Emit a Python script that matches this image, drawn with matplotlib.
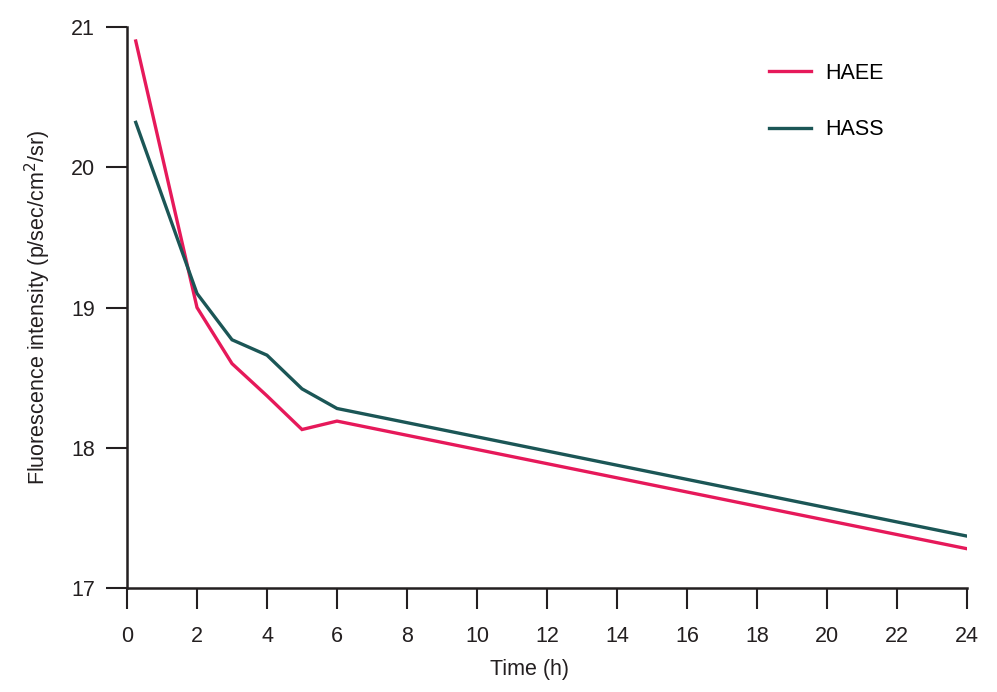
import matplotlib
matplotlib.use("Agg")
import matplotlib.pyplot as plt

time_h = [0.25, 2, 3, 4, 5, 6, 24]
haee = [20.90, 19.00, 18.60, 18.37, 18.13, 18.19, 17.28]
hass = [20.32, 19.10, 18.77, 18.66, 18.42, 18.28, 17.37]
xticks = list(range(0, 25, 2))
yticks = [17, 18, 19, 20, 21]

plt.rcParams['font.family'] = ['Liberation Sans', 'DejaVu Sans']

fig = plt.figure(figsize=(9.97, 6.92), dpi=100)
ax = fig.add_axes([127/997, 1-588/692, (967-127)/997, (588-27)/692])

c_haee = '#E6195A'
c_hass = '#1B5656'
ax.plot(time_h, haee, color=c_haee, lw=2.4, label='HAEE', solid_joinstyle='miter')
ax.plot(time_h, hass, color=c_hass, lw=2.4, label='HASS', solid_joinstyle='miter')

fs = 15.5
ax.set_xlim(0, 24)
ax.set_ylim(17, 21)
ax.set_xticks(xticks)
ax.set_yticks(yticks)
for s in ['top', 'right']:
    ax.spines[s].set_visible(False)
for s in ['left', 'bottom']:
    ax.spines[s].set_linewidth(1.8)
    ax.spines[s].set_color('#231F20')
ax.tick_params(axis='both', direction='out', length=15, width=1.5, colors='#231F20',
               labelsize=fs)
ax.tick_params(axis='x', pad=12)
ax.tick_params(axis='y', pad=8)
ax.set_xlabel('Time (h)', fontsize=fs, color='#231F20')
ax.xaxis.set_label_coords(0.4786, -0.127)
ax.set_ylabel('Fluorescence intensity (p/sec/cm$^2$/sr)', fontsize=fs, color='#231F20', labelpad=13)

leg = ax.legend(loc='upper left', bbox_to_anchor=(0.741, 0.971), frameon=False, fontsize=fs,
                handlelength=1.96, handletextpad=0.65, labelspacing=1.65)

fig.savefig('out.png', dpi=100)
